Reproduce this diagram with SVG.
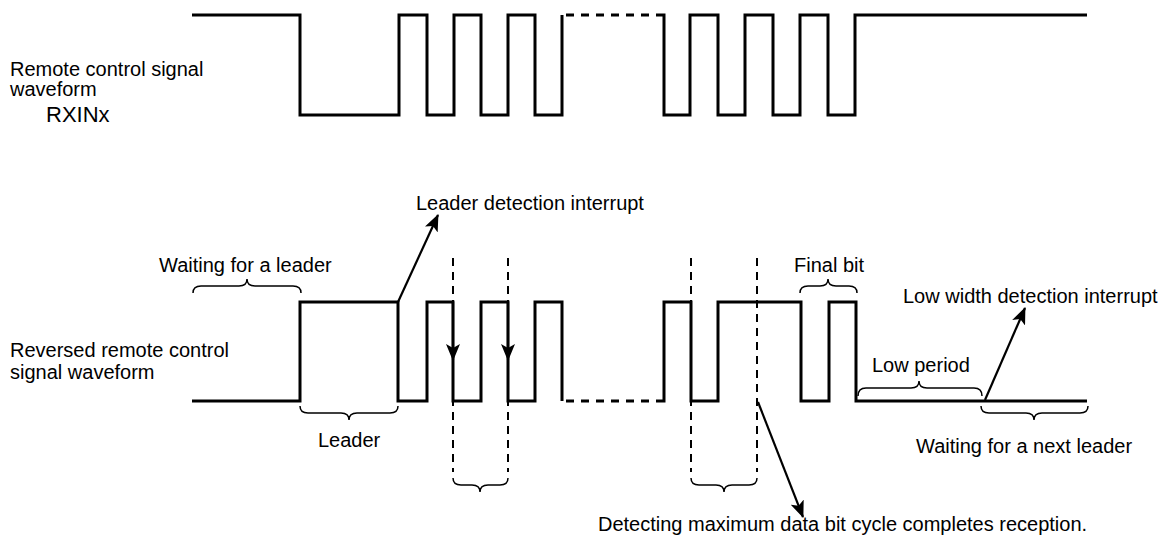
<svg xmlns="http://www.w3.org/2000/svg" width="1169" height="545" viewBox="0 0 1169 545">
<defs>
<marker id="ah" markerUnits="userSpaceOnUse" markerWidth="18" markerHeight="14" viewBox="0 0 18 14" refX="16" refY="7" orient="auto">
<path d="M0,0 L17,7 L0,14 L4,7 z" fill="#000"/>
</marker>
<style>
.w{fill:none;stroke:#000;stroke-width:3}
.wd{fill:none;stroke:#000;stroke-width:3;stroke-dasharray:8 7}
.vd{fill:none;stroke:#000;stroke-width:2;stroke-dasharray:8 6}
.br{fill:none;stroke:#000;stroke-width:1.5}
.ar{fill:none;stroke:#000;stroke-width:2.2}
text{font-family:"Liberation Sans",Arial,sans-serif;font-size:20px;fill:#000}
</style>
</defs>
<rect width="1169" height="545" fill="#fff"/>
<g id="labels-left">
<text x="10" y="76">Remote control signal</text>
<text x="10" y="96">waveform</text>
<text x="46" y="122" style="font-size:22px">RXINx</text>
<text x="10" y="357">Reversed remote control</text>
<text x="10" y="379">signal waveform</text>
</g>
<g id="rxin-waveform">
<path class="w" d="M192,15 H300 V115 H399 V15 H427 V115 H454 V15 H481 V115 H508 V15 H535 V115 H562 V15"/>
<path class="wd" d="M566,15 H660"/>
<path class="w" d="M660,15 H664 V115 H690 V15 H718 V115 H745 V15 H773 V115 H800 V15 H828 V115 H855 V15 H1087"/>
</g>
<g id="reversed-waveform">
<path class="w" d="M192,401 H300 V302 H398 V401 H427 V302 H453 V401 H481 V302 H508 V401 H535 V302 H562 V401"/>
<path class="wd" d="M566,401 H658"/>
<path class="w" d="M658,401 H664 V302 H691 V401 H718 V302 H801 V401 H829 V302 H856 V401 H1087"/>
</g>
<g id="markers">
<path class="vd" d="M453,258 V472 M508,258 V472 M691,258 V472 M757,258 V472"/>
</g>
<g id="braces">
<path class="br" d="M193,293 Q193,286 201,286 L239,286 Q247,286 247,279 Q247,286 255,286 L293,286 Q301,286 301,293"/>
<path class="br" d="M800,293 Q800,286 808,286 L820,286 Q828,286 828,279 Q828,286 836,286 L849,286 Q857,286 857,293"/>
<path class="br" d="M858,396 Q858,388 866,388 L911,388 Q919,388 919,381 Q919,388 927,388 L974,388 Q982,388 982,396"/>
<path class="br" d="M300,406 Q300,413 308,413 L341,413 Q349,413 349,420 Q349,413 357,413 L390,413 Q398,413 398,406"/>
<path class="br" d="M981,406 Q981,413 989,413 L1026,413 Q1034,413 1034,420 Q1034,413 1042,413 L1080,413 Q1088,413 1088,406"/>
<path class="br" d="M453,478 Q453,485 461,485 L472,485 Q480,485 480,492 Q480,485 488,485 L500,485 Q508,485 508,478"/>
<path class="br" d="M691,478 Q691,485 699,485 L716,485 Q724,485 724,492 Q724,485 732,485 L749,485 Q757,485 757,478"/>
</g>
<g id="connectors">
<line class="ar" x1="398" y1="302" x2="438" y2="215" marker-end="url(#ah)"/>
<line class="ar" x1="453" y1="302" x2="453" y2="360" marker-end="url(#ah)"/>
<line class="ar" x1="508" y1="302" x2="508" y2="360" marker-end="url(#ah)"/>
<line class="ar" x1="758" y1="402" x2="803" y2="517" marker-end="url(#ah)"/>
<line class="ar" x1="985" y1="400" x2="1025" y2="308" marker-end="url(#ah)"/>
</g>
<g id="annotations">
<text x="416" y="210">Leader detection interrupt</text>
<text x="159" y="272">Waiting for a leader</text>
<text x="794" y="272">Final bit</text>
<text x="903" y="303">Low width detection interrupt</text>
<text x="872" y="372">Low period</text>
<text x="318" y="447">Leader</text>
<text x="916" y="453">Waiting for a next leader</text>
<text x="598" y="531">Detecting maximum data bit cycle completes reception.</text>
</g>
</svg>
